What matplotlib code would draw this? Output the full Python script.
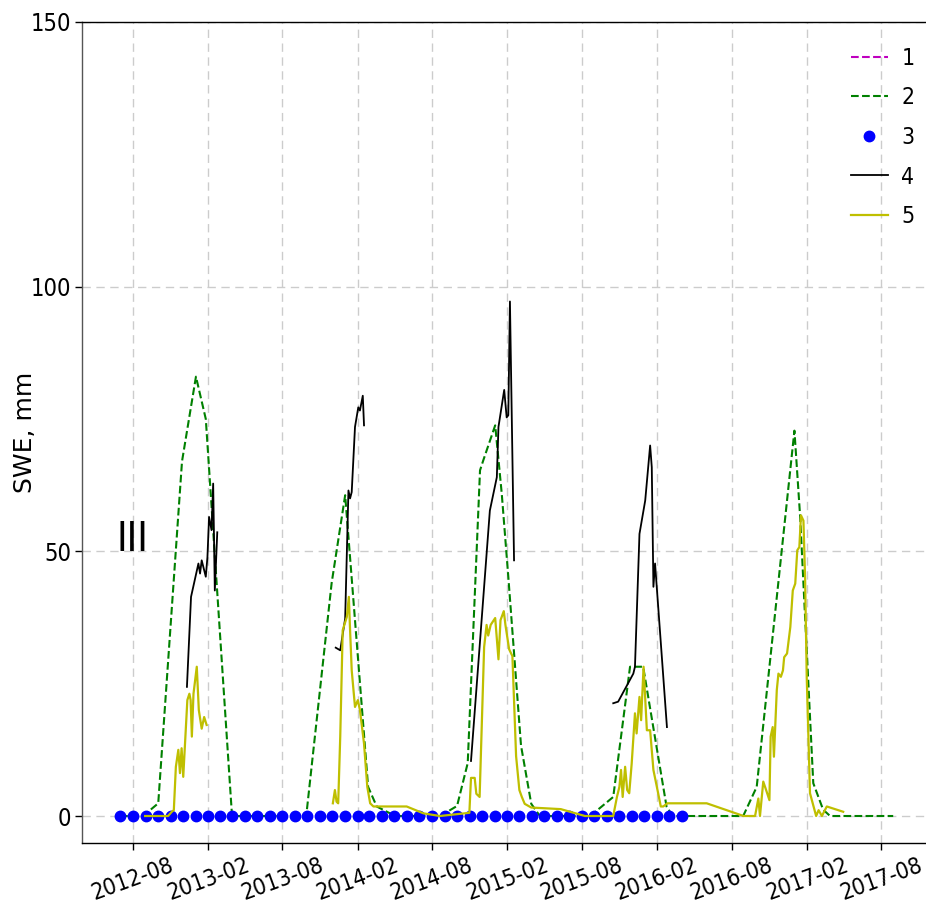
import matplotlib
matplotlib.use('Agg')
import matplotlib.pyplot as plt
import matplotlib.dates as mdates
import numpy as np
import pandas as pd

NARROW = ['DejaVu Sans']
nan = np.nan

# ---- series 1 (no visible data) ----
s1_dates = []
s1_vals = []

# ---- series 2 (green dashed) ----
s2_dates = ['2012-07-01', '2012-08-26', '2012-10-02', '2012-11-29', '2013-01-02', '2013-01-26',
            '2013-03-31', '2013-09-28', '2013-11-29', '2014-01-01', '2014-02-26', '2014-03-19',
            '2014-05-03', '2014-08-21', '2014-10-01', '2014-10-27', '2014-11-26', '2014-12-04',
            '2015-01-02', '2015-01-18', '2015-02-03', '2015-03-06', '2015-03-31', '2015-04-21',
            '2015-08-22', '2015-10-17', '2015-11-27', '2015-12-29', '2016-02-24', '2016-03-10',
            '2016-08-29', '2016-10-01', '2017-01-01', '2017-01-15', '2017-02-16', '2017-03-12',
            '2017-03-29', '2017-08-30']
s2_vals = [0.0, 0.0, 2.4, 67.0, 83.0, 75.0,
           0.0, 0.0, 44.0, 60.6, 5.5, 1.8,
           0.0, 0.0, 1.9, 10.0, 65.3, 67.2,
           73.8, 60.9, 45.2, 13.3, 2.3, 0.0,
           0.0, 3.6, 28.2, 28.2, 1.8, 0.0,
           0.0, 5.5, 72.8, 56.5, 6.2, 1.2,
           0.0, 0.0]

# ---- series 3 (blue dots, monthly) ----
s3_dates = pd.date_range('2012-07-01', '2016-04-01', freq='MS')
s3_vals = [0.0] * len(s3_dates)

# ---- series 4 (black solid) ----
s4_dates = ['2012-12-11', '2012-12-21', '2013-01-08', '2013-01-12', '2013-01-16', '2013-01-26',
            '2013-01-30', '2013-02-03', '2013-02-09', '2013-02-13', '2013-02-17', '2013-02-23',
            '2013-06-01',
            '2013-12-09', '2013-12-20', '2014-01-01', '2014-01-09', '2014-01-13', '2014-01-17',
            '2014-01-25', '2014-02-02', '2014-02-06', '2014-02-13', '2014-02-16',
            '2014-06-01',
            '2014-11-04', '2014-12-20', '2015-01-06', '2015-01-10', '2015-01-24', '2015-01-30',
            '2015-02-03', '2015-02-07', '2015-02-17',
            '2015-06-01',
            '2015-10-17', '2015-10-29', '2015-12-05', '2015-12-09', '2015-12-20', '2016-01-03',
            '2016-01-15', '2016-01-19', '2016-01-23', '2016-01-27', '2016-02-25']
s4_vals = [24.4, 41.4, 47.7, 45.8, 48.3, 45.2, 48.9, 56.5, 54.0, 62.8, 42.6, 53.6,
           nan,
           31.8, 31.3, 37.3, 61.5, 60.0, 61.2, 73.5, 77.2, 76.6, 79.4, 73.8,
           nan,
           10.4, 57.7, 64.0, 73.5, 80.5, 75.3, 75.7, 97.2, 48.3,
           nan,
           21.3, 21.6, 26.9, 28.2, 53.3, 59.6, 70.0, 65.9, 43.3, 47.7, 16.8]

# ---- series 5 (yellow solid) ----
s5_dates = ['2012-08-31', '2012-10-26', '2012-11-04', '2012-11-09', '2012-11-14', '2012-11-20',
            '2012-11-24', '2012-11-28', '2012-12-02', '2012-12-12', '2012-12-17', '2012-12-20',
            '2012-12-23', '2012-12-27', '2013-01-04', '2013-01-09', '2013-01-16', '2013-01-22',
            '2013-01-28',
            '2013-06-01',
            '2013-12-02', '2013-12-07', '2013-12-11', '2013-12-15', '2013-12-20', '2013-12-26',
            '2014-01-05', '2014-01-10', '2014-01-13', '2014-01-17', '2014-01-25', '2014-02-01',
            '2014-02-06', '2014-02-16', '2014-02-24', '2014-03-03', '2014-03-11', '2014-03-19',
            '2014-05-31', '2014-07-11', '2014-08-20',
            '2014-10-31', '2014-11-04', '2014-11-13', '2014-11-17', '2014-11-25', '2014-12-06',
            '2014-12-12', '2014-12-16', '2014-12-22', '2015-01-02', '2015-01-10', '2015-01-15',
            '2015-01-23', '2015-01-27', '2015-02-05', '2015-02-13', '2015-02-22', '2015-03-02',
            '2015-03-08', '2015-03-15', '2015-03-31', '2015-06-11', '2015-08-09',
            '2015-10-17', '2015-10-26', '2015-11-01', '2015-11-05', '2015-11-09', '2015-11-15',
            '2015-11-20', '2015-11-25', '2015-12-01', '2015-12-09', '2015-12-13', '2015-12-20',
            '2015-12-24', '2015-12-30', '2016-01-07', '2016-01-15', '2016-01-23', '2016-02-02',
            '2016-02-10', '2016-02-16', '2016-02-26', '2016-06-01', '2016-08-30',
            '2016-09-27', '2016-10-05', '2016-10-09', '2016-10-17', '2016-10-24', '2016-11-01',
            '2016-11-04', '2016-11-09', '2016-11-12', '2016-11-19', '2016-11-23', '2016-11-29',
            '2016-12-04', '2016-12-07', '2016-12-14', '2016-12-22', '2016-12-28', '2017-01-03',
            '2017-01-08', '2017-01-13', '2017-01-17', '2017-01-23', '2017-01-27', '2017-01-31',
            '2017-02-08', '2017-02-23', '2017-03-01', '2017-03-09', '2017-03-21', '2017-04-30']
s5_vals = [0.0, 0.0, 0.8, 1.1, 9.3, 12.5, 8.1, 12.8, 7.4, 21.9, 23.1, 21.9,
           15.0, 23.1, 28.2, 20.0, 16.5, 18.7, 17.2,
           nan,
           2.4, 4.9, 2.7, 2.4, 15.0, 35.1, 37.6, 41.4, 35.1, 27.5, 20.6, 21.9,
           20.0, 13.7, 5.5, 2.4, 1.8, 1.8, 1.8, 0.5, 0.0,
           0.6, 7.2, 7.2, 4.2, 3.6, 31.9, 36.1, 34.1, 36.1, 37.4, 29.6, 37.0,
           38.7, 36.1, 31.5, 30.2, 11.3, 4.9, 3.6, 2.3, 1.6, 1.3, 0.0,
           0.0, 3.6, 5.5, 8.7, 3.6, 9.3, 4.9, 4.3, 9.9, 19.4, 15.6, 22.5,
           18.1, 28.2, 16.2, 16.2, 8.7, 4.9, 1.8, 1.8, 2.4, 2.4, 0.0,
           0.0, 3.3, 0.0, 6.5, 4.9, 3.0, 15.0, 16.8, 11.2, 23.8, 26.9, 26.3,
           27.5, 30.0, 30.7, 35.7, 42.6, 43.9, 50.2, 50.8, 56.8, 55.8, 45.2, 26.3,
           4.3, 0.0, 1.1, 0.0, 1.8, 0.8]

series_labels = ['1', '2', '3', '4', '5']
y_ticks = [0, 50, 100, 150]
panel_label = 'III'
y_label = 'SWE, mm'

W, H = 926, 913
fig = plt.figure(figsize=(W / 100, H / 100), dpi=100)
fig.patch.set_facecolor('white')
ax = fig.add_axes([82 / W, 70 / H, 1 - 82 / W, (843 - 22) / H])

ax.plot(pd.to_datetime(s1_dates), s1_vals, color='m', ls='--', lw=1.5, label=series_labels[0])
ax.plot(pd.to_datetime(s2_dates), s2_vals, color='g', ls='--', lw=1.5, label=series_labels[1])
ax.plot(s3_dates, s3_vals, color='b', ls='none', marker='o', ms=7.5, mec='b', label=series_labels[2])
ax.plot(pd.to_datetime(s4_dates), s4_vals, color='k', ls='-', lw=1.3, label=series_labels[3])
ax.plot(pd.to_datetime(s5_dates), s5_vals, color='y', ls='-', lw=1.6, label=series_labels[4])

ax.set_ylim(-5.1, 150)
ax.set_xlim(pd.Timestamp('2012-03-30'), pd.Timestamp('2017-11-18'))
ax.set_yticks(y_ticks)
ax.xaxis.set_major_locator(mdates.MonthLocator(bymonth=[2, 8]))
ax.xaxis.set_major_formatter(mdates.DateFormatter('%Y-%m'))

ax.grid(True, color='#cccccc', ls=(0, (6, 4)), lw=1.0)
ax.set_axisbelow(True)
ax.spines['right'].set_visible(False)
for s in ['left', 'bottom', 'top']:
    ax.spines[s].set_linewidth(1.0)
ax.spines['left'].set_color('#555555')

ax.tick_params(axis='both', length=5, width=1, pad=2.5)
for lab in ax.get_yticklabels():
    lab.set_fontfamily(NARROW)
    lab.set_fontstretch('condensed')
    lab.set_fontsize(17)
for lab in ax.get_xticklabels():
    lab.set_fontfamily(NARROW)
    lab.set_fontstretch('condensed')
    lab.set_fontsize(16.5)
    lab.set_rotation(20)
    lab.set_ha('center')

ax.set_ylabel(y_label, fontsize=18, family='DejaVu Sans')
ax.yaxis.set_label_coords(-45 / 844, 0.5)

ax.text(pd.Timestamp('2012-08-01'), 50, panel_label, fontsize=29, family=NARROW,
        fontstretch='condensed', ha='center', va='baseline')

leg = ax.legend(loc='upper left', bbox_to_anchor=(851 / W, 1 - 47 / H),
                bbox_transform=fig.transFigure, frameon=False, numpoints=1,
                handlelength=1.6, handletextpad=0.6, labelspacing=0.72,
                borderpad=0, borderaxespad=0,
                prop={'family': NARROW, 'size': 16.5, 'stretch': 'condensed'})

fig.savefig('out.png', dpi=100, facecolor='white')
